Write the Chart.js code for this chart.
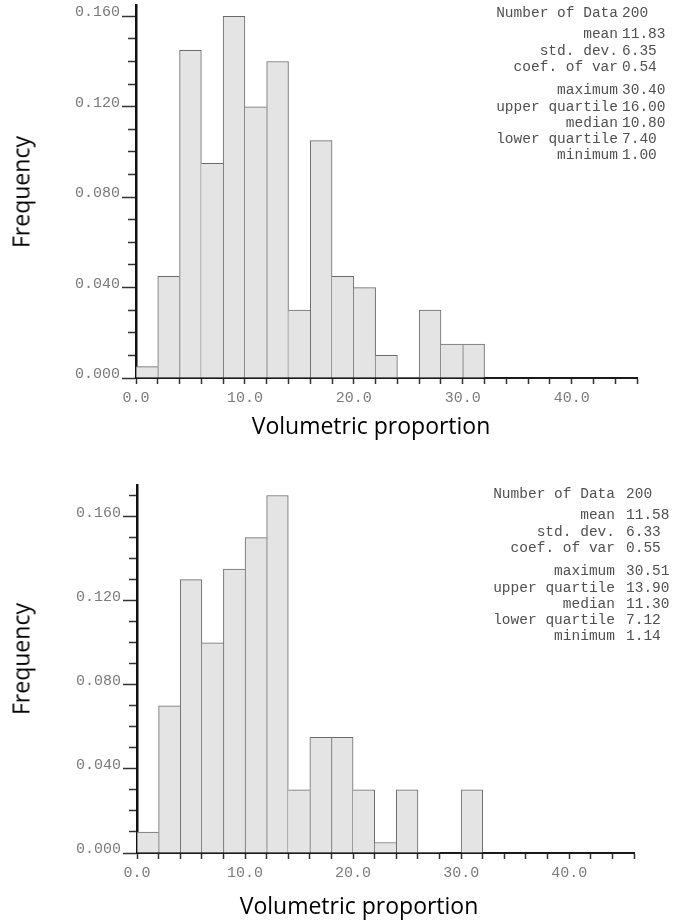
<!DOCTYPE html>
<html>
<head>
<meta charset="utf-8">
<script src="https://cdn.jsdelivr.net/npm/chart.js@4.4.0/dist/chart.umd.min.js"></script>
<style>
  body { margin: 0; background: #fff; }
  #page { position: relative; width: 675px; height: 923px; overflow: hidden; }
  .box { position: absolute; left: 0; }
  .ttl { position: absolute; font-family: "Open Sans"; font-size: 23px; line-height: 23px; color: #000; white-space: nowrap; }
  .st { position: absolute; font-family: "Liberation Mono"; font-size: 14.5px; line-height: 16px; color: #505050; white-space: nowrap; }
</style>
</head>
<body>
<div id="page">
  <canvas id="hist1" class="box" style="top:0" width="675" height="460"></canvas>
  <canvas id="hist2" class="box" style="top:460px" width="675" height="463"></canvas>

  <div class="ttl" style="left:20.5px;top:192px;transform:translate(-50%,-50%) rotate(-90deg)">Frequency</div>
  <div class="ttl" style="left:371px;top:413.6px;transform:translateX(-50%)">Volumetric proportion</div>
  <div class="ttl" style="left:20.5px;top:659px;transform:translate(-50%,-50%) rotate(-90deg)">Frequency</div>
  <div class="ttl" style="left:359px;top:893.6px;transform:translateX(-50%)">Volumetric proportion</div>
</div>

<script>
// histogram bins: width 2, centres
const binCentres = [1, 3, 5, 7, 9, 11, 13, 15, 17, 19, 21, 23, 25, 27, 29, 31];
const freqTop = [0.005, 0.045, 0.145, 0.095, 0.160, 0.120, 0.140, 0.030, 0.105, 0.045, 0.040, 0.010, 0, 0.030, 0.015, 0.015];
const freqBottom = [0.010, 0.070, 0.130, 0.100, 0.135, 0.150, 0.170, 0.030, 0.055, 0.055, 0.030, 0.005, 0.030, 0, 0, 0.030];

const statLabels = ["Number of Data", "mean", "std. dev.", "coef. of var", "maximum", "upper quartile", "median", "lower quartile", "minimum"];
const statsTop = ["200", "11.83", "6.35", "0.54", "30.40", "16.00", "10.80", "7.40", "1.00"];
const statsBottom = ["200", "11.58", "6.33", "0.55", "30.51", "13.90", "11.30", "7.12", "1.14"];

const statRowOffsets = [0, 21, 37.5, 54, 77, 94, 109.5, 125.5, 142];

const tickFont = { family: "Liberation Mono", size: 15 };
const tickGray = "#7a7a7a";

function isMajor(v) {
  return Math.round(v * 1000) % 40 === 0;
}

// one outline line between neighbouring bars, drawn by the taller one
function barEdges(freq, i) {
  const v = freq[i];
  const prev = i > 0 ? freq[i - 1] : 0;
  const next = i < freq.length - 1 ? freq[i + 1] : 0;
  return { top: 1, bottom: 0, left: prev <= v ? 1 : 0, right: next < v ? 1 : 0 };
}

function makeHist(id, freq, yMax, area) {
  return new Chart(document.getElementById(id), {
    type: "bar",
    data: {
      datasets: [
        {
          data: binCentres.map((x, i) => ({ x: x, y: freq[i] })),
          backgroundColor: "#e4e4e4",
          borderColor: "#6a6a6a",
          borderWidth: (c) => barEdges(freq, c.dataIndex),
          borderSkipped: false,
          barPercentage: 1,
          categoryPercentage: 1,
        },
      ],
    },
    options: {
      responsive: false,
      animation: false,
      layout: {
        autoPadding: false,
        padding: { top: area.top, right: area.right, left: 0, bottom: 0 },
      },
      plugins: { legend: { display: false }, tooltip: { enabled: false } },
      scales: {
        x: {
          type: "linear",
          min: 0,
          max: 46,
          offset: false,
          afterFit: (s) => {
            s.height = area.xh;
            s.paddingLeft = 0;
            s.paddingRight = 0;
          },
          ticks: {
            stepSize: 2,
            autoSkip: false,
            maxRotation: 0,
            padding: 5,
            color: tickGray,
            font: tickFont,
            callback: (v) => (v % 10 === 0 ? v.toFixed(1) : ""),
          },
          grid: { offset: false, drawOnChartArea: false, tickLength: 6, tickColor: "#333", tickWidth: 1.5 },
          border: { color: "#1a1a1a", width: 2 },
        },
        y: {
          min: 0,
          max: yMax,
          afterFit: (s) => {
            s.width = area.left;
            s.paddingTop = 0;
            s.paddingBottom = 0;
          },
          ticks: {
            stepSize: 0.01,
            autoSkip: false,
            includeBounds: false,
            padding: 2,
            labelOffset: -4,
            color: tickGray,
            font: tickFont,
            callback: (v) => (isMajor(v) ? v.toFixed(3) : ""),
          },
          grid: {
            drawOnChartArea: false,
            tickLength: 14,
            tickColor: "#333",
            tickWidth: 1.5,
            tickBorderDash: (c) => (c.tick && !isMajor(c.tick.value) ? [0, 6, 100] : []),
          },
          border: { color: "#111", width: 2.5 },
        },
      },
    },
  });
}

function addStats(values, firstY, labelRight, valueLeft) {
  const page = document.getElementById("page");
  statLabels.forEach((lab, i) => {
    const y = firstY + statRowOffsets[i] - 7.3;
    const a = document.createElement("div");
    a.className = "st";
    a.textContent = lab;
    a.style.top = y + "px";
    a.style.right = 675 - labelRight + "px";
    page.appendChild(a);
    const b = document.createElement("div");
    b.className = "st";
    b.textContent = values[i];
    b.style.top = y + "px";
    b.style.left = valueLeft + "px";
    page.appendChild(b);
  });
}

makeHist("hist1", freqTop, 0.165, { top: 5, right: 38, left: 136, xh: 82 });
makeHist("hist2", freqBottom, 0.175, { top: 25, right: 41, left: 137, xh: 70 });

addStats(statsTop, 12.7, 618, 622);
addStats(statsBottom, 493.3, 615, 626);
</script>
</body>
</html>
